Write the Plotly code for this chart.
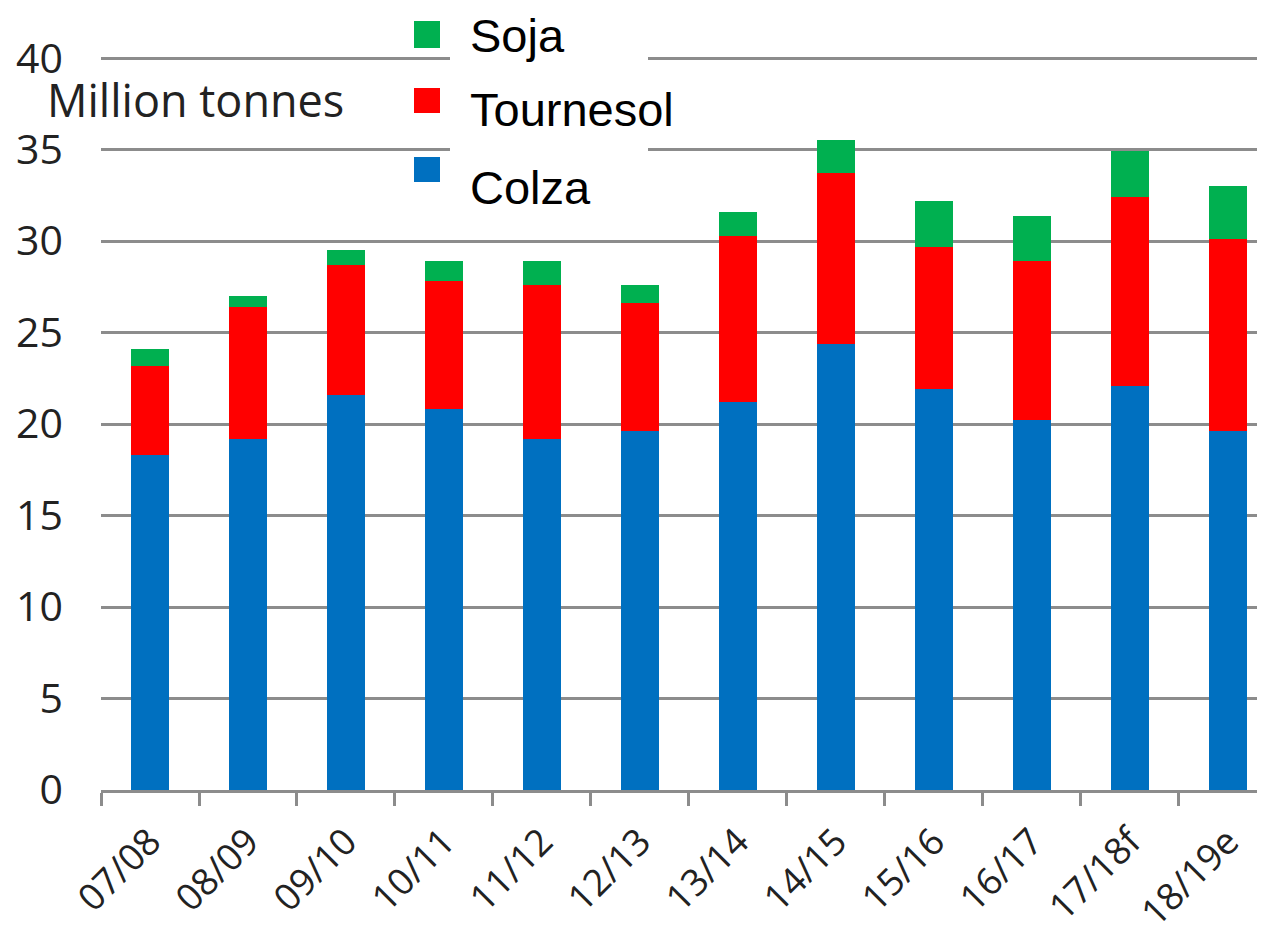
import plotly.graph_objects as go

# marketing years
seasons = ["07/08", "08/09", "09/10", "10/11", "11/12", "12/13",
           "13/14", "14/15", "15/16", "16/17", "17/18f", "18/19e"]

# million tonnes, stacked segments
colza = [18.3, 19.2, 21.6, 20.8, 19.2, 19.6, 21.2, 24.4, 21.9, 20.2, 22.1, 19.6]
tournesol = [4.9, 7.2, 7.1, 7.0, 8.4, 7.0, 9.1, 9.3, 7.8, 8.7, 10.3, 10.5]
soja = [0.9, 0.6, 0.8, 1.1, 1.3, 1.0, 1.3, 1.8, 2.5, 2.5, 2.5, 2.9]

BLUE = "#0070C0"
RED = "#FF0000"
GREEN = "#00B050"
GRID = "#8c8c8c"
TXT = "#222222"

# the page body keeps its default 8px margin, so the figure is 8px smaller
OFF = 8
W, H = 1265 - OFF, 936 - OFF
L, R, T, B = 93, 0, 41, 146


def px_x(px):
    # page pixel -> paper x
    return (px - OFF - L) / (W - L - R)


def px_y(py):
    # page pixel -> paper y
    return (H - B - (py - OFF)) / (H - T - B)


fig = go.Figure()
for name, vals, col in [("Colza", colza, BLUE), ("Tournesol", tournesol, RED), ("Soja", soja, GREEN)]:
    fig.add_trace(go.Bar(x=seasons, y=vals, name=name, marker_color=col,
                         marker_line_width=0, width=0.385))

# hand-made legend (big squares, white box over the gridlines)
shapes = [dict(type="rect", xref="paper", yref="paper", layer="above",
               x0=px_x(450), x1=px_x(648), y0=px_y(195), y1=px_y(OFF),
               fillcolor="white", line_width=0)]
annotations = [dict(text="Million tonnes", xref="paper", yref="paper",
                    x=px_x(45), y=px_y(99), xanchor="left", yanchor="middle",
                    height=38, showarrow=False,
                    font=dict(family="Open Sans", size=45, color=TXT))]
legend_items = [("Soja", GREEN, 21, 48, 36), ("Tournesol", RED, 88, 113, 109),
                ("Colza", BLUE, 157, 182, 187)]
for label, col, top, bot, ty in legend_items:
    shapes.append(dict(type="rect", xref="paper", yref="paper", layer="above",
                       x0=px_x(414), x1=px_x(440), y0=px_y(bot), y1=px_y(top),
                       fillcolor=col, line_width=0))
    annotations.append(dict(text=label, xref="paper", yref="paper",
                            x=px_x(468), y=px_y(ty), xanchor="left", yanchor="middle",
                            showarrow=False,
                            font=dict(family="Liberation Sans", size=47, color="black")))

fig.update_layout(
    barmode="stack",
    width=W, height=H,
    margin=dict(l=L, r=R, t=T, b=B, pad=0),
    plot_bgcolor="white", paper_bgcolor="white",
    showlegend=False,
    shapes=shapes,
    annotations=annotations,
    xaxis=dict(
        type="category",
        automargin=False,
        range=[-0.5, 11.378],
        showline=True, linecolor=GRID, linewidth=3,
        ticks="outside", tickson="boundaries", ticklen=13, tickwidth=3, tickcolor=GRID,
        tickangle=-45,
        ticklabelstandoff=12,
        tickfont=dict(family="Open Sans", size=37, color=TXT),
        showgrid=False,
    ),
    yaxis=dict(
        automargin=False,
        range=[0, 40.5],
        tick0=0, dtick=5,
        showgrid=True, gridcolor=GRID, gridwidth=3,
        zeroline=False, showline=False, ticks="",
        ticklabelstandoff=37,
        tickfont=dict(family="Open Sans", size=41, color=TXT),
    ),
)

fig.write_html("out.html")
